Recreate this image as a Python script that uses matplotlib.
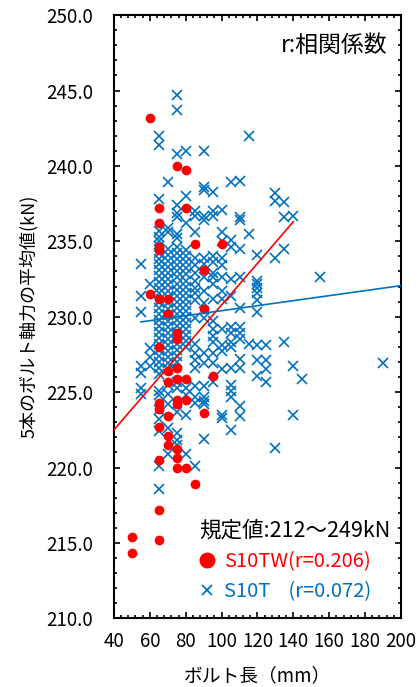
import numpy as np
import matplotlib
matplotlib.use('Agg')
import matplotlib.pyplot as plt
from matplotlib.lines import Line2D
from matplotlib.ticker import MultipleLocator, FormatStrFormatter

plt.rcParams['font.family'] = ['Noto Sans CJK JP', 'DejaVu Sans']

# S10TW: ボルト長(mm) と 5本平均軸力(kN)
s10tw_len = [50, 50,
             60, 60,
             65, 65, 65, 65, 65, 65, 65, 65, 65, 65, 65, 65,
             70, 70, 70, 70, 70, 70, 70,
             75, 75, 75, 75, 75, 75, 75, 75, 75, 75,
             80, 80, 80, 80, 80,
             85, 85,
             90, 90, 90,
             95,
             100]
s10tw_val = [215.4, 214.3,
             243.2, 231.5,
             237.2, 236.2, 234.6, 234.4, 231.2, 228.0, 224.3, 223.9, 222.7, 220.5, 217.2, 215.2,
             231.2, 230.2, 226.4, 225.7, 223.4, 222.1, 221.5,
             240.0, 228.9, 228.5, 226.6, 225.9, 224.5, 224.2, 221.2, 220.6, 220.0,
             239.7, 237.2, 225.9, 224.5, 220.0,
             234.8, 218.9,
             233.1, 230.5, 223.6,
             226.1,
             234.8]

# S10T: ボルト長ごとの値
s10t_lengths = [55, 60, 65, 70, 75, 80, 85, 90, 95, 100, 105, 110,
                115, 120, 125, 130, 135, 140, 145, 155, 190]
s10t_values = [
    [233.5, 231.4, 230.3, 226.7, 226.3, 225.3, 224.9],
    [232.2, 227.9, 227.3, 226.7],
    [242.0, 241.4, 237.8, 235.7, 235.3, 235.0, 234.7, 234.2, 233.8, 233.5, 233.1, 232.7,
     232.3, 231.9, 231.6, 231.0, 230.6, 230.2, 229.8, 229.4, 229.0, 228.6, 228.2, 227.8,
     227.4, 227.0, 226.6, 226.2, 225.1, 224.8, 223.8, 223.2, 222.4, 220.1, 218.6],
    [238.9, 235.9, 235.6, 234.5, 234.1, 233.7, 233.3, 232.9, 232.5, 232.1, 231.7, 231.3,
     230.9, 230.5, 230.1, 229.7, 229.3, 228.9, 228.5, 228.1, 227.7, 227.3, 226.9, 226.5,
     225.5, 224.9, 224.2, 222.6, 220.9],
    [244.7, 243.7, 240.8, 237.4, 236.9, 236.6, 235.5, 235.2, 234.6, 234.2, 233.8, 233.4,
     233.0, 232.6, 232.2, 231.8, 231.4, 231.0, 230.6, 230.2, 229.8, 229.4, 229.0, 228.6,
     228.2, 227.8, 227.4, 227.0, 225.7, 225.3, 223.7, 222.3, 221.8, 221.5],
    [241.0, 238.0, 236.2, 234.4, 234.0, 233.6, 233.2, 232.8, 232.4, 232.0, 231.6, 231.2,
     230.8, 230.4, 230.0, 229.6, 229.2, 228.8, 228.4, 228.0, 225.3, 224.8, 223.5, 220.9],
    [237.0, 236.7, 235.6, 233.9, 233.4, 232.9, 232.4, 231.9, 231.6, 231.1, 229.9, 228.2,
     227.6, 227.1, 226.6, 225.4, 224.7, 224.3, 220.1],
    [241.0, 238.6, 238.4, 236.7, 236.4, 233.9, 233.5, 232.6, 231.7, 230.9, 229.9, 227.6,
     226.9, 225.4, 224.7, 224.4, 224.2, 221.9],
    [238.3, 237.0, 236.7, 234.0, 233.6, 232.9, 232.6, 232.2, 231.2, 229.7, 229.2, 228.7,
     228.3, 227.6, 226.9, 225.7],
    [237.1, 235.6, 235.0, 233.9, 233.4, 232.6, 231.7, 231.2, 229.2, 228.1, 227.7, 226.5,
     223.5, 223.3],
    [238.9, 235.1, 234.6, 232.5, 231.4, 229.3, 228.9, 228.3, 228.0, 226.6, 225.5, 225.1,
     224.7, 222.5],
    [239.0, 236.6, 236.4, 234.5, 232.6, 230.6, 229.3, 228.9, 228.5, 227.2, 226.6, 224.1,
     223.4],
    [242.0, 235.5, 228.2],
    [234.1, 232.4, 232.2, 231.9, 231.6, 231.1, 230.3, 228.1, 227.1, 226.1],
    [228.1, 227.1, 226.5, 225.7],
    [238.2, 237.7, 233.9, 221.3],
    [237.6, 236.6, 234.5, 228.3],
    [236.7, 226.7, 223.5],
    [225.9],
    [232.6],
    [226.9],
]

# 近似直線 (傾き, 切片, 描画範囲)
s10tw_fit = (0.138, 216.98)
s10tw_fit_range = (40, 140)
s10t_fit = (0.0166, 228.74)
s10t_fit_range = (55, 200)

RED = '#FF0000'
BLUE = '#0070C0'

x_t = []
y_t = []
for L, vals in zip(s10t_lengths, s10t_values):
    for v in vals:
        x_t.append(L)
        y_t.append(v)

fig = plt.figure(figsize=(4.19, 6.87), dpi=100)
ax = fig.add_axes([0.272, 0.100, 0.685, 0.878])

ax.plot(x_t, y_t, linestyle='none', marker='x', markersize=6.5,
        markeredgewidth=1.2, color=BLUE, zorder=2)
ax.plot(s10tw_len, s10tw_val, linestyle='none', marker='o', markersize=7,
        color=RED, markeredgewidth=0, zorder=3)

xs = np.array(s10tw_fit_range, dtype=float)
ax.plot(xs, s10tw_fit[0] * xs + s10tw_fit[1], color=RED, lw=1.2, zorder=4)
xs = np.array(s10t_fit_range, dtype=float)
ax.plot(xs, s10t_fit[0] * xs + s10t_fit[1], color=BLUE, lw=1.2, zorder=4)

ax.set_xlim(40, 200)
ax.set_ylim(210, 250)
ax.xaxis.set_major_locator(MultipleLocator(20))
ax.xaxis.set_minor_locator(MultipleLocator(4))
ax.yaxis.set_major_locator(MultipleLocator(5))
ax.yaxis.set_minor_locator(MultipleLocator(1))
ax.yaxis.set_major_formatter(FormatStrFormatter('%.1f'))
ax.tick_params(which='both', direction='in', top=True, right=True, width=1.2)
ax.tick_params(which='major', length=4.5, labelsize=13.5)
ax.tick_params(axis='y', which='major', pad=15)
ax.tick_params(axis='x', which='major', pad=9)
ax.tick_params(which='minor', length=2.5)
for s in ax.spines.values():
    s.set_linewidth(1.5)

ax.set_xlabel('ボルト長（mm）', fontsize=13.5, labelpad=10)
ax.set_ylabel('5本のボルト軸力の平均値(kN)', fontsize=13, labelpad=6)

ax.text(0.952, 0.95, 'r:相関係数', transform=ax.transAxes, ha='right', va='center',
        fontsize=16.5)

handles = [
    Line2D([], [], linestyle='none', marker='o', markersize=11.5, color=RED, markeredgewidth=0),
    Line2D([], [], linestyle='none', marker='x', markersize=7, markeredgewidth=1.3, color=BLUE),
]
leg = ax.legend(handles, ['S10TW(r=0.206)', 'S10T    (r=0.072)'],
                title='規定値:212～249kN', loc='lower left',
                bbox_to_anchor=(0.24, 0.0), frameon=False, fontsize=14.5,
                title_fontsize=15.5, alignment='left', labelcolor=[RED, BLUE],
                handlelength=0.8, handletextpad=0.45, labelspacing=0.45,
                borderpad=0.3)

fig.savefig('out.png', dpi=100)
